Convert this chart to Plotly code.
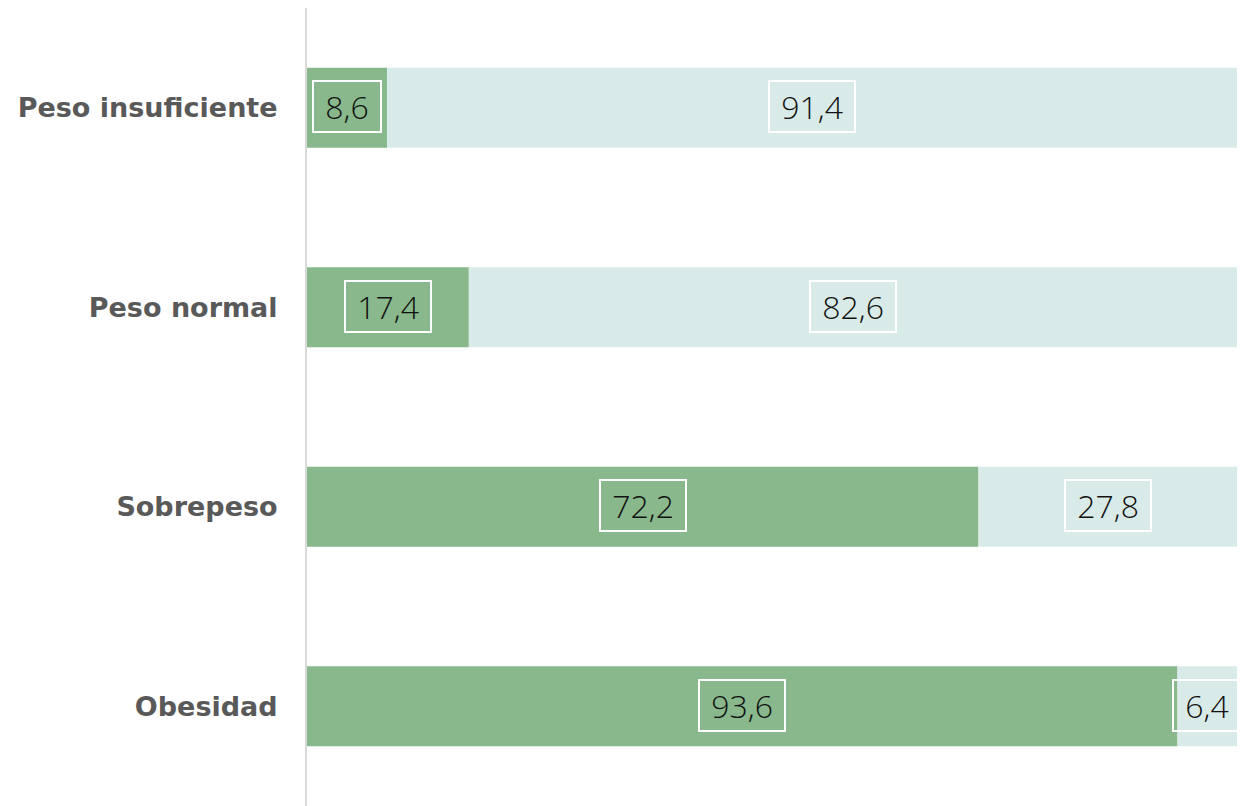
import plotly.graph_objects as go

categories = ["Peso insuficiente", "Peso normal", "Sobrepeso", "Obesidad"]
serie_a = [8.6, 17.4, 72.2, 93.6]
serie_b = [91.4, 82.6, 27.8, 6.4]

GREEN = "#88b88b"
LIGHT = "#d9ebe8"

fig = go.Figure()
fig.add_trace(go.Bar(y=categories, x=serie_a, orientation="h", marker_color=GREEN,
                     marker_line_width=0, name="A", hoverinfo="skip"))
fig.add_trace(go.Bar(y=categories, x=serie_b, orientation="h", marker_color=LIGHT,
                     marker_line_width=0, name="B", base=serie_a, hoverinfo="skip"))

def fmt(v):
    return "\u00a0" + f"{v:.1f}".replace(".", ",") + "\u00a0"

for c, a, b in zip(categories, serie_a, serie_b):
    for x, v in ((a / 2, a), (a + b / 2, b)):
        fig.add_annotation(x=x, y=c, xref="x", yref="y", text=fmt(v), showarrow=False,
                           font=dict(family="Open Sans", size=32, color="#111111", weight=300),
                           bordercolor="white", borderwidth=2, borderpad=3,
                           xanchor="center", yanchor="middle", yshift=1)

fig.update_layout(
    width=1245, height=798,
    margin=dict(l=299, r=16, t=0, b=0),
    barmode="overlay", bargap=0.6,
    showlegend=False,
    plot_bgcolor="white", paper_bgcolor="white",
    xaxis=dict(range=[0, 100], visible=False, fixedrange=True),
    yaxis=dict(autorange="reversed", showgrid=False, zeroline=False,
               showline=True, linecolor="#d9d9d9", linewidth=2,
               ticks="", ticklabelstandoff=22,
               tickfont=dict(family="DejaVu Sans", size=27, color="#595959", weight="bold")),
)

fig.write_html("out.html")
